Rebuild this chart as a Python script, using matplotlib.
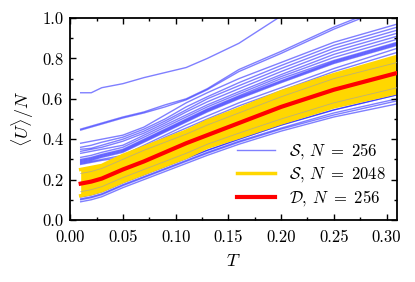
import matplotlib
matplotlib.use("Agg")
import matplotlib.pyplot as plt
from matplotlib.ticker import MultipleLocator

plt.rcParams['font.family'] = 'serif'
plt.rcParams['font.serif'] = ['cmr10']
plt.rcParams['mathtext.fontset'] = 'cm'
plt.rcParams['axes.formatter.use_mathtext'] = True

T = [0.01, 0.02, 0.03, 0.05, 0.07, 0.09, 0.11, 0.13, 0.16, 0.20, 0.25, 0.31]

# S, N=256 samples (blue)
blue_lines = [
    [0.63, 0.63, 0.655, 0.675, 0.705, 0.73, 0.755, 0.80, 0.875, 1.01, 1.13, 1.26],
    [0.45, 0.465, 0.48, 0.51, 0.535, 0.57, 0.60, 0.65, 0.745, 0.835, 0.955, 1.08],
    [0.445, 0.46, 0.475, 0.505, 0.53, 0.56, 0.595, 0.645, 0.735, 0.825, 0.945, 1.07],
    [0.38, 0.39, 0.40, 0.42, 0.46, 0.52, 0.58, 0.63, 0.70, 0.78, 0.88, 0.97],
    [0.36, 0.37, 0.385, 0.41, 0.45, 0.50, 0.56, 0.61, 0.68, 0.765, 0.865, 0.955],
    [0.35, 0.355, 0.37, 0.40, 0.44, 0.49, 0.545, 0.60, 0.665, 0.75, 0.85, 0.94],
    [0.34, 0.35, 0.36, 0.39, 0.43, 0.48, 0.535, 0.585, 0.65, 0.735, 0.835, 0.925],
    [0.33, 0.34, 0.35, 0.37, 0.42, 0.47, 0.52, 0.57, 0.635, 0.72, 0.82, 0.91],
    [0.31, 0.32, 0.335, 0.36, 0.41, 0.46, 0.51, 0.56, 0.625, 0.71, 0.805, 0.895],
    [0.30, 0.31, 0.325, 0.35, 0.40, 0.45, 0.50, 0.55, 0.615, 0.70, 0.79, 0.88],
    [0.295, 0.305, 0.32, 0.345, 0.395, 0.445, 0.495, 0.545, 0.61, 0.69, 0.785, 0.875],
    [0.29, 0.30, 0.315, 0.34, 0.39, 0.44, 0.49, 0.54, 0.605, 0.685, 0.78, 0.87],
    [0.285, 0.295, 0.31, 0.335, 0.385, 0.435, 0.485, 0.535, 0.60, 0.68, 0.775, 0.865],
    [0.28, 0.29, 0.30, 0.32, 0.37, 0.42, 0.47, 0.515, 0.58, 0.655, 0.75, 0.85],
    [0.275, 0.285, 0.295, 0.31, 0.36, 0.41, 0.455, 0.50, 0.565, 0.64, 0.735, 0.83],
    [0.115, 0.125, 0.14, 0.185, 0.225, 0.265, 0.305, 0.345, 0.40, 0.47, 0.545, 0.62],
    [0.115, 0.125, 0.14, 0.185, 0.225, 0.265, 0.305, 0.345, 0.40, 0.47, 0.545, 0.62],
    [0.105, 0.115, 0.13, 0.175, 0.215, 0.255, 0.295, 0.335, 0.39, 0.455, 0.53, 0.60],
    [0.10, 0.11, 0.125, 0.17, 0.21, 0.25, 0.29, 0.33, 0.385, 0.45, 0.52, 0.59],
    [0.09, 0.10, 0.115, 0.16, 0.20, 0.24, 0.28, 0.32, 0.375, 0.44, 0.51, 0.575],
]

# S, N=2048 band (gold)
gold_top = [0.25, 0.26, 0.27, 0.32, 0.36, 0.40, 0.44, 0.49, 0.55, 0.635, 0.72, 0.81]
gold_bottom = [0.12, 0.13, 0.145, 0.19, 0.23, 0.27, 0.31, 0.36, 0.41, 0.48, 0.56, 0.63]
gray_lines = [
    [0.23, 0.24, 0.255, 0.30, 0.345, 0.385, 0.425, 0.47, 0.53, 0.61, 0.70, 0.78],
    [0.14, 0.15, 0.165, 0.21, 0.25, 0.29, 0.33, 0.375, 0.43, 0.50, 0.58, 0.655],
]

# D, N=256 (red)
red = [0.18, 0.19, 0.205, 0.25, 0.29, 0.335, 0.38, 0.42, 0.48, 0.56, 0.645, 0.728]

xticks = [0, 0.05, 0.10, 0.15, 0.20, 0.25, 0.30]
xticklabels = ['0.00', '0.05', '0.10', '0.15', '0.20', '0.25', '0.30']
yticks = [0, 0.2, 0.4, 0.6, 0.8, 1.0]
yticklabels = ['0.0', '0.2', '0.4', '0.6', '0.8', '1.0']

fig = plt.figure(figsize=(4.15, 2.82), dpi=100)
ax = fig.add_axes([0.169, 0.22, 0.788, 0.716])

for i, yv in enumerate(blue_lines):
    ax.plot(T, yv, color='#0000ff', alpha=0.5, lw=1.0, zorder=1,
            label=r'$\mathcal{S}$, $N\ =\ 256$' if i == 0 else None)

ax.fill_between(T, gold_bottom, gold_top, color='#ffd700', lw=0, zorder=2)
ax.plot(T, gold_top, color='#ffd700', lw=2.5, zorder=2,
        label=r'$\mathcal{S}$, $N\ =\ 2048$')
ax.plot(T, gold_bottom, color='#ffd700', lw=2.5, zorder=2)
for yv in gray_lines:
    ax.plot(T, yv, color='#b0a890', lw=0.6, alpha=0.8, zorder=3)

ax.plot(T, red, color='#ff0000', lw=3, zorder=4, label=r'$\mathcal{D}$, $N\ =\ 256$')

ax.set_xlim(0, 0.31)
ax.set_ylim(0, 1.0)
ax.xaxis.set_minor_locator(MultipleLocator(0.025))
ax.yaxis.set_minor_locator(MultipleLocator(0.1))
ax.set_xticks(xticks)
ax.set_xticklabels(xticklabels)
ax.set_yticks(yticks)
ax.set_yticklabels(yticklabels)
ax.tick_params(which='both', direction='in', top=True, right=True, labelsize=12)
ax.tick_params(axis='x', pad=7)
ax.tick_params(axis='y', pad=5)
ax.tick_params(which='major', length=4, width=1)
ax.tick_params(which='minor', length=2.5, width=1)
for s in ax.spines.values():
    s.set_linewidth(1.3)

ax.set_xlabel(r'$T$', fontsize=13, labelpad=6)
ax.set_ylabel(r'$\langle U\rangle/N$', fontsize=13, labelpad=4)

ax.legend(loc='lower right', frameon=False, fontsize=12, handlelength=2.3,
          handletextpad=0.8, labelspacing=0.25, borderaxespad=0.3)

fig.savefig('out.png', dpi=100)
